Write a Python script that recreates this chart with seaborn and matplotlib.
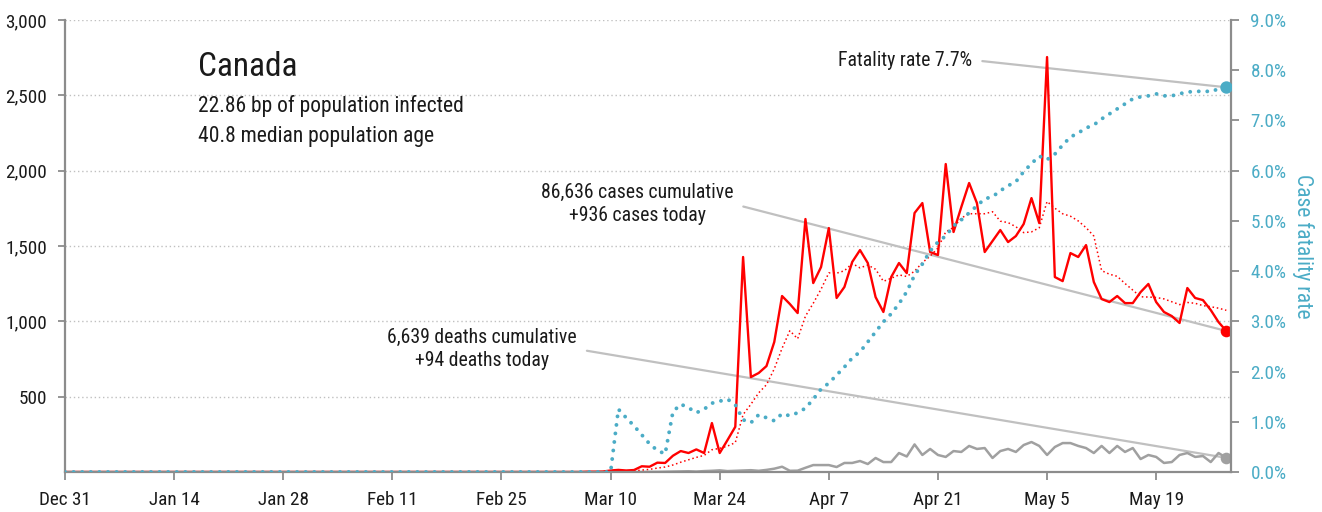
import pandas as pd
import matplotlib
matplotlib.use('Agg')
import matplotlib.pyplot as plt
import matplotlib.ticker as mticker
import matplotlib.dates as mdates
from matplotlib import font_manager
import seaborn as sns

# --- DATA ---
START_DATE = '2019-12-31'
N_DAYS = 150
FIRST_DATA_DAY = 66  # Mar 6; everything before is flat at zero

# daily new cases, Mar 6 .. May 28
CASES = [
    0, 2, 2, 3, 10, 14, 10, 13, 38, 35,
    62, 60, 108, 139, 126, 150, 126, 325, 126, 212,
    300, 1427, 630, 657, 703, 863, 1168, 1115, 1055, 1679,
    1254, 1360, 1619, 1155, 1228, 1394, 1473, 1387, 1161, 1062,
    1294, 1387, 1320, 1719, 1785, 1460, 1440, 2044, 1593, 1759,
    1918, 1785, 1460, 1533, 1606, 1526, 1566, 1646, 1818, 1652,
    2754, 1294, 1267, 1453, 1427, 1506, 1261, 1148, 1128, 1168,
    1121, 1121, 1194, 1248, 1128, 1062, 1035, 989, 1221, 1155,
    1141, 1075, 995, 936,
]

# daily new deaths, Mar 6 .. May 28
DEATHS = [
    0, 0, 0, 0, 0, 1, 0, 0, 0, 1,
    1, 2, 3, 4, 5, 3, 6, 8, 11, 6,
    8, 10, 12, 8, 14, 22, 35, 8, 9, 28,
    46, 46, 46, 33, 60, 60, 73, 53, 93, 66,
    66, 126, 103, 183, 113, 153, 113, 100, 139, 133,
    173, 153, 159, 93, 139, 153, 133, 179, 199, 173,
    113, 166, 192, 192, 173, 159, 126, 173, 126, 173,
    133, 159, 86, 113, 100, 60, 66, 113, 126, 100,
    106, 66, 126, 94,
]

# case fatality rate in %, Mar 6 .. May 28
FATALITY_RATE = [
    0, 0, 0, 0, 0, 1.25, 1.08, 0.92, 0.74, 0.56,
    0.43, 0.36, 1.20, 1.35, 1.28, 1.18, 1.25, 1.37, 1.41, 1.45,
    1.34, 1.04, 0.98, 1.14, 1.08, 1.02, 1.16, 1.12, 1.18, 1.27,
    1.45, 1.65, 1.77, 1.93, 2.09, 2.27, 2.39, 2.59, 2.79, 2.99,
    3.15, 3.35, 3.59, 3.92, 4.14, 4.40, 4.58, 4.70, 4.90, 5.02,
    5.16, 5.30, 5.44, 5.48, 5.60, 5.70, 5.78, 5.98, 6.14, 6.29,
    6.22, 6.33, 6.51, 6.67, 6.75, 6.85, 6.91, 7.03, 7.13, 7.23,
    7.33, 7.43, 7.47, 7.49, 7.53, 7.49, 7.49, 7.53, 7.57, 7.57,
    7.59, 7.57, 7.63, 7.66,
]

CUM_CASES = 86636
CUM_DEATHS = 6639

TICK_LABELS = ['Dec 31', 'Jan 14', 'Jan 28', 'Feb 11', 'Feb 25', 'Mar 10',
               'Mar 24', 'Apr 7', 'Apr 21', 'May 5', 'May 19']
COUNTRY = 'Canada'
INFO_LINES = ['22.86 bp of population infected', '40.8 median population age']

# --- COLOURS ---
RED = '#FF0000'
TEAL = '#4BACC6'
GRAY_DEATHS = '#A0A0A0'
GRAY_LINE = '#C0C0C0'
AXIS_GRAY = '#8C8C8C'
TEXT = '#1A1A1A'


def pick_font():
    """Prefer a narrow sans; fall back to Liberation Sans a bit smaller"""
    names = {f.name for f in font_manager.fontManager.ttflist}
    for cand in ['Liberation Sans Narrow', 'Roboto Condensed', 'Arial Narrow',
                 'Open Sans Condensed']:
        if cand in names:
            return cand, 1.0
    return 'Liberation Sans', 0.86


def make_chart():
    sns.set_theme(style='white')
    font, k = pick_font()
    plt.rcParams['font.family'] = [font, 'DejaVu Sans']

    pad = [0] * FIRST_DATA_DAY
    df = pd.DataFrame({
        'date': pd.date_range(START_DATE, periods=N_DAYS),
        'cases': pad + CASES,
        'deaths': pad + DEATHS,
        'rate': [0.0] * FIRST_DATA_DAY + FATALITY_RATE,
    })
    df['avg7'] = df['cases'].rolling(7, min_periods=1).mean()
    last = df.iloc[-1]

    fig = plt.figure(figsize=(13.22, 5.12), dpi=100)
    ax = fig.add_axes([65 / 1322, 40 / 512, 1166 / 1322, 452 / 512])
    ax2 = ax.twinx()

    # --- left axis: cases and deaths ---
    sns.lineplot(data=df, x='date', y='deaths', ax=ax, color=GRAY_DEATHS, linewidth=1.8)
    sns.lineplot(data=df, x='date', y='avg7', ax=ax, color=RED, linewidth=1.1,
                 linestyle=(0, (1, 1.8)))
    sns.lineplot(data=df, x='date', y='cases', ax=ax, color=RED, linewidth=1.7)
    sns.scatterplot(x=[last['date']], y=[last['deaths']], ax=ax, color=GRAY_DEATHS,
                    s=70, linewidth=0, zorder=5)
    sns.scatterplot(x=[last['date']], y=[last['cases']], ax=ax, color=RED,
                    s=70, linewidth=0, zorder=5)

    # --- right axis: fatality rate ---
    sns.lineplot(data=df, x='date', y='rate', ax=ax2, color=TEAL, linewidth=2.8,
                 linestyle=(0, (0.01, 2.2)), dash_capstyle='round')
    sns.scatterplot(x=[last['date']], y=[last['rate']], ax=ax2, color=TEAL,
                    s=80, linewidth=0, zorder=5)

    # --- axes ---
    ax.set_xlim(df['date'].iloc[0], df['date'].iloc[0] + pd.Timedelta(days=149.6))
    ax.set_xticks(pd.date_range(START_DATE, periods=len(TICK_LABELS), freq='14D'))
    ax.set_xticklabels(TICK_LABELS)
    ax.set_ylim(0, 3000)
    ax.set_yticks(range(500, 3001, 500))
    ax.yaxis.set_major_formatter(mticker.StrMethodFormatter('{x:,.0f}'))
    ax.grid(axis='y', linestyle=(0, (1, 2)), color=GRAY_LINE, linewidth=1)
    ax.set_xlabel('')
    ax.set_ylabel('')

    ax2.set_ylim(0, 9)
    ax2.set_yticks(range(0, 10))
    ax2.yaxis.set_major_formatter(mticker.FuncFormatter(lambda v, p: f'{v:.1f}%'))
    ax2.set_ylabel('Case fatality rate', rotation=270, color=TEAL,
                   fontsize=15.5 * k, labelpad=20)
    ax2.set_xlabel('')

    for s in ['top', 'right']:
        ax.spines[s].set_visible(False)
    for s in ['top', 'left', 'bottom']:
        ax2.spines[s].set_visible(False)
    for sp in [ax.spines['left'], ax.spines['bottom'], ax2.spines['right']]:
        sp.set_color(AXIS_GRAY)
        sp.set_linewidth(1.6)

    fs_tick = 13.8 * k
    ax.tick_params(axis='y', length=5, width=1.3, color=AXIS_GRAY, labelsize=fs_tick,
                   labelcolor=TEXT, pad=8, left=True)
    ax.tick_params(axis='x', length=6, width=1.3, color=AXIS_GRAY, labelsize=fs_tick,
                   labelcolor=TEXT, pad=8, bottom=True)
    ax2.tick_params(axis='y', length=6, width=1.3, color=AXIS_GRAY, labelsize=fs_tick,
                    labelcolor=TEAL, pad=8, right=True)

    # --- text ---
    ax.text(0.114, 0.877, COUNTRY, transform=ax.transAxes, fontsize=24 * k,
            va='baseline', color=TEXT)
    ax.text(0.114, 0.796, INFO_LINES[0], transform=ax.transAxes, fontsize=15.5 * k,
            va='baseline', color=TEXT)
    ax.text(0.114, 0.730, INFO_LINES[1], transform=ax.transAxes, fontsize=15.5 * k,
            va='baseline', color=TEXT)

    link = dict(arrowstyle='-', color=GRAY_LINE, lw=1.6, shrinkA=5, shrinkB=0,
                relpos=(1, 0.5))
    fs_note = 14.2 * k
    ax.annotate(f'{CUM_CASES:,} cases cumulative\n+{last["cases"]:,} cases today',
                xy=(last['date'], last['cases']), xytext=(0.4906, 0.593),
                textcoords='axes fraction', ha='center', va='center',
                fontsize=fs_note, linespacing=1.3, color=TEXT,
                arrowprops=link, zorder=1.5)
    ax.annotate(f'{CUM_DEATHS:,} deaths cumulative\n+{last["deaths"]:,} deaths today',
                xy=(last['date'], last['deaths']), xytext=(0.3576, 0.272),
                textcoords='axes fraction', ha='center', va='center',
                fontsize=fs_note, linespacing=1.25, color=TEXT,
                arrowprops=link, zorder=1.5)
    ax.annotate(f'Fatality rate {last["rate"]:.1f}%',
                xy=(mdates.date2num(last['date']), last['rate']), xycoords=ax2.transData,
                xytext=(0.778, 0.9115), textcoords='axes fraction',
                ha='right', va='center', fontsize=fs_note, color=TEXT,
                arrowprops=link, zorder=1.5)

    plt.savefig('out.png', dpi=100)
    plt.close()


if __name__ == '__main__':
    make_chart()
